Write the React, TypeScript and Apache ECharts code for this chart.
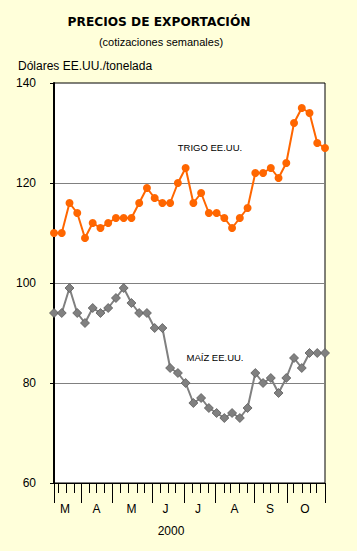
import React, { useEffect, useRef } from "react";
import * as echarts from "echarts";

const wheat = [110, 110, 116, 114, 109, 112, 111, 112, 113, 113, 113, 116, 119, 117, 116, 116, 120, 123, 116, 118, 114, 114, 113, 111, 113, 115, 122, 122, 123, 121, 124, 132, 135, 134, 128, 127];
const maize = [94, 94, 99, 94, 92, 95, 94, 95, 97, 99, 96, 94, 94, 91, 91, 83, 82, 80, 76, 77, 75, 74, 73, 74, 73, 75, 82, 80, 81, 78, 81, 85, 83, 86, 86, 86];
const monthLabels = ["M", "A", "M", "J", "J", "A", "S", "O"];
const monthLabelPos = [1.42, 5.5, 10.0, 14.4, 18.6, 23.3, 27.9, 32.4];
const monthBoundaries = [0, 3.53, 7.53, 12.75, 16.8, 20.8, 25.9, 30.06, 35];
const weekTicks = [0.55, 1.64, 2.58, 4.56, 5.52, 6.5, 8.6, 9.65, 10.7, 11.7, 13.7, 14.7, 15.6, 17.8, 18.9, 19.9, 22, 22.8, 23.9, 24.9, 27, 27.9, 29, 30.9, 32, 33.1, 33.9];
const yTicks = [60, 80, 100, 120, 140];

const FONT = "'Liberation Sans', Arial, sans-serif";

export default function App() {
  const ref = useRef<HTMLDivElement>(null);
  useEffect(() => {
    if (!ref.current) return;
    const chart = echarts.init(ref.current, null, { renderer: "svg" });
    const labelMap: Record<string, string> = {};
    monthLabelPos.forEach((p, i) => (labelMap[String(p)] = monthLabels[i]));
    chart.setOption({
      animation: false,
      backgroundColor: "#FFFFDA",
      textStyle: { fontFamily: FONT },
      grid: {
        left: 54,
        right: 32,
        top: 83,
        bottom: 68,
        show: true,
        backgroundColor: "#FFFFFF",
        borderColor: "#000000",
        borderWidth: 1,
      },
      xAxis: [
        {
          type: "value",
          min: 0,
          max: 35,
          position: "bottom",
          axisLine: { show: true, onZero: false, lineStyle: { color: "#000", width: 1 } },
          axisTick: { show: true, length: 10, customValues: weekTicks, lineStyle: { color: "#000" } },
          axisLabel: { show: false },
          splitLine: { show: false },
        },
        {
          type: "value",
          min: 0,
          max: 35,
          position: "bottom",
          axisLine: { show: false, onZero: false },
          axisTick: { show: true, length: 20, customValues: monthBoundaries, lineStyle: { color: "#000" } },
          axisLabel: {
            show: true,
            customValues: monthLabelPos,
            margin: 20,
            fontSize: 12,
            fontFamily: FONT,
            color: "#000",
            formatter: (v: number) => labelMap[String(v)] ?? "",
          },
          splitLine: { show: false },
        },
      ],
      yAxis: {
        type: "value",
        min: yTicks[0],
        max: yTicks[yTicks.length - 1],
        interval: 20,
        axisLine: { show: true, lineStyle: { color: "#000", width: 2 } },
        axisTick: { show: true, length: 4, lineStyle: { color: "#000" } },
        axisLabel: { fontSize: 12, fontFamily: FONT, color: "#000", margin: 18 },
        splitLine: { show: true, showMinLine: false, showMaxLine: false, lineStyle: { color: "#808080", width: 1 } },
      },
      series: [
        {
          type: "line",
          name: "TRIGO EE.UU.",
          data: wheat.map((v, i) => [i, v]),
          xAxisIndex: 0,
          symbol: "circle",
          symbolSize: 8,
          itemStyle: { color: "#FF6600" },
          lineStyle: { color: "#FF6600", width: 2 },
        },
        {
          type: "line",
          name: "MAÍZ EE.UU.",
          data: maize.map((v, i) => [i, v]),
          xAxisIndex: 0,
          symbol: "diamond",
          symbolSize: 9,
          itemStyle: { color: "#808080", borderColor: "#5a5a5a", borderWidth: 0.8 },
          lineStyle: { color: "#808080", width: 2 },
        },
      ],
      graphic: [
        { type: "text", x: 159, y: 22, style: { text: "PRECIOS DE EXPORTACIÓN", font: `bold 12.2px 'DejaVu Sans', sans-serif`, fill: "#000", align: "center", verticalAlign: "middle" } },
        { type: "text", x: 161, y: 42, style: { text: "(cotizaciones semanales)", font: `11px ${FONT}`, fill: "#000", align: "center", verticalAlign: "middle" } },
        { type: "text", x: 18, y: 66, style: { text: "Dólares EE.UU./tonelada", font: `12px ${FONT}`, fill: "#000", align: "left", verticalAlign: "middle" } },
        { type: "text", x: 210, y: 147, style: { text: "TRIGO EE.UU.", font: `9.5px ${FONT}`, fill: "#000", align: "center", verticalAlign: "middle" } },
        { type: "text", x: 215, y: 357, style: { text: "MAÍZ EE.UU.", font: `9.5px ${FONT}`, fill: "#000", align: "center", verticalAlign: "middle" } },
        { type: "text", x: 171, y: 531, style: { text: "2000", font: `12px ${FONT}`, fill: "#000", align: "center", verticalAlign: "middle" } },
      ],
    });
    return () => chart.dispose();
  }, []);
  return <div ref={ref} style={{ position: "fixed", left: 0, top: 0, width: 357, height: 551 }} />;
}
